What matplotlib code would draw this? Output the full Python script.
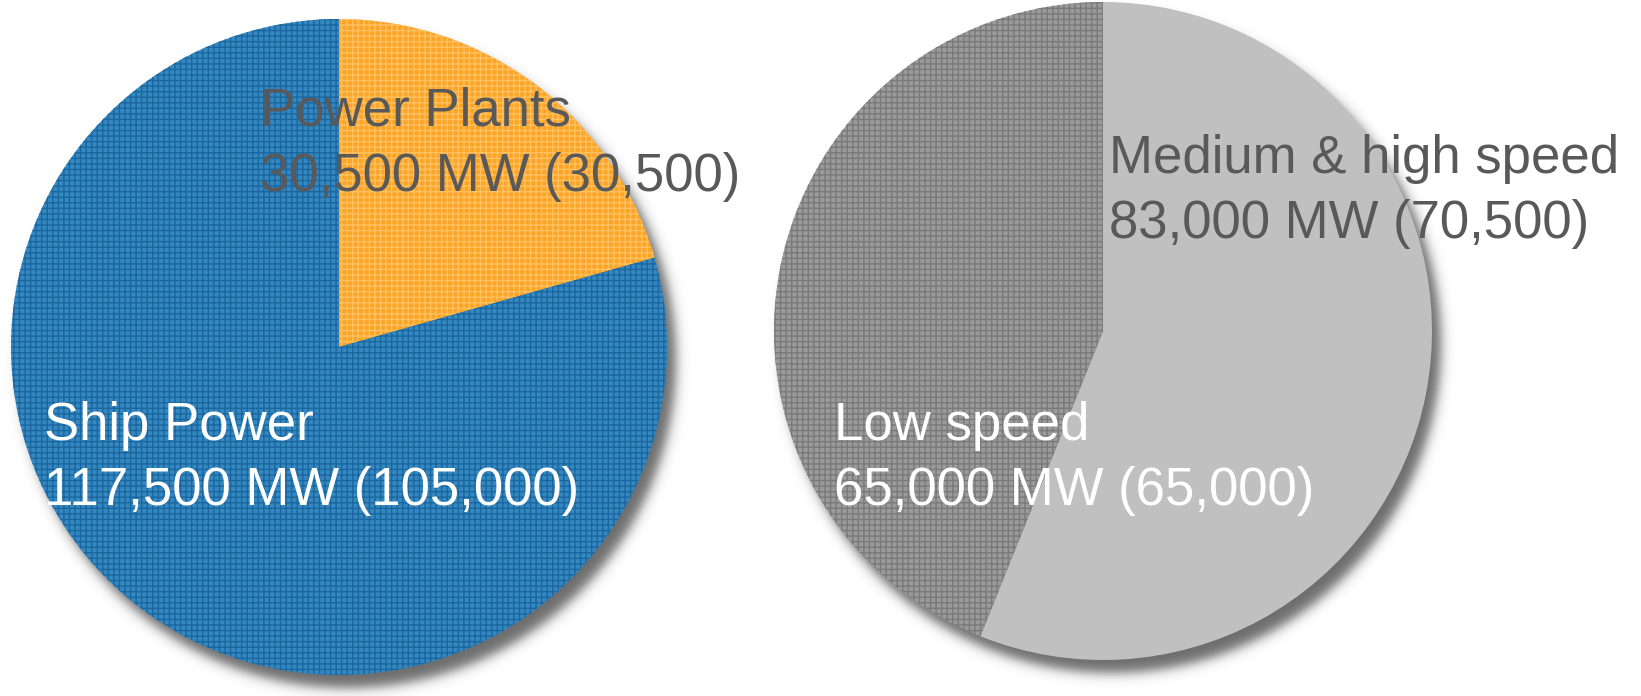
import matplotlib
matplotlib.use("Agg")
import matplotlib.pyplot as plt
import numpy as np

plt.rcParams["font.family"] = ["Liberation Sans", "DejaVu Sans"]
plt.rcParams["hatch.linewidth"] = 1.0

# installed capacity, MW: current and (previous)
market_labels = ["Power Plants", "Ship Power"]
market_mw = [30500, 117500]
market_prev = [30500, 105000]

speed_labels = ["Medium & high speed", "Low speed"]
speed_mw = [83000, 65000]
speed_prev = [70500, 65000]

W, H = 1641, 696
fig = plt.figure(figsize=(W / 100, H / 100), dpi=100)
ax = fig.add_axes([0, 0, 1, 1])

# pie centres / radius in pixel units
pies = [
    dict(vals=market_mw, prev=market_prev, names=market_labels, center=(339, 349), r=328,
         faces=["#fba426", "#3587c0"], hatches=["#ffc161", "#1a67a0"],
         text_pos=[(260, 570), (44, 256)], text_col=["#595959", "white"]),
    dict(vals=speed_mw, prev=speed_prev, names=speed_labels, center=(1103, 365), r=329,
         faces=["#c0c0c0", "#9a9a9a"], hatches=[None, "#7a7a7a"],
         text_pos=[(1109, 523), (834, 256)], text_col=["#595959", "white"]),
]

# soft drop shadow under both pies
yy, xx = np.mgrid[0:H, 0:W] + 0.5
alpha = np.zeros((H, W))
for p in pies:
    cx, cy = p["center"]
    d = np.hypot(xx - (cx + 9), yy - (cy - 13))
    alpha = np.maximum(alpha, 0.5 * (1 - np.tanh((d - p["r"]) / 7.0)))
shadow = np.zeros((H, W, 4))
shadow[..., 3] = alpha * 0.58
ax.imshow(shadow, extent=(0, W, 0, H), origin="lower", zorder=0, interpolation="bilinear")

for p in pies:
    wedges, _ = ax.pie(p["vals"], colors=p["faces"], startangle=90, counterclock=False,
                       center=p["center"], radius=p["r"], wedgeprops=dict(linewidth=0))
    for w, hc in zip(wedges, p["hatches"]):
        w.set_zorder(2)
        if hc is not None:
            w.set_hatch("+++")
            w.set_edgecolor(hc)
    for name, v, pv, (tx, ty), col in zip(p["names"], p["vals"], p["prev"],
                                          p["text_pos"], p["text_col"]):
        ax.text(tx, ty, name, fontsize=38, color=col, va="baseline", ha="left", zorder=5)
        ax.text(tx, ty - 65, f"{v:,} MW ({pv:,})", fontsize=38, color=col,
                va="baseline", ha="left", zorder=5)

ax.set_xlim(0, W)
ax.set_ylim(0, H)
ax.set_aspect("equal")
ax.axis("off")

fig.savefig("out.png", dpi=100, facecolor="white")
